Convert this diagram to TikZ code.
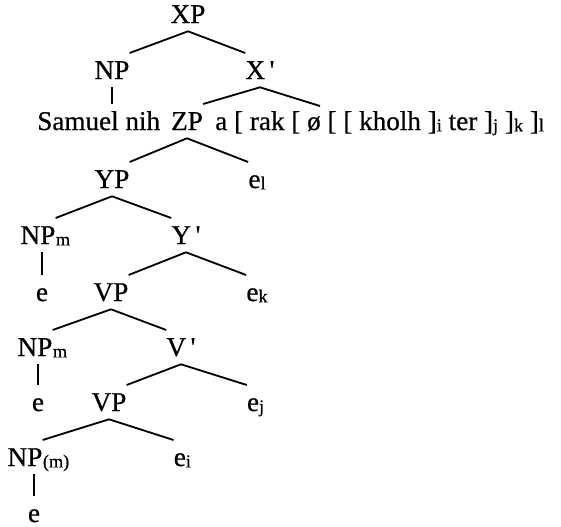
\documentclass[tikz,border=0pt]{standalone}
\usepackage{fontspec}
\setmainfont{Liberation Serif}[FakeBold=0.6]
\newcommand{\sbx}[1]{\raisebox{-1pt}{\fontsize{13}{14}\selectfont #1}}
\begin{document}
\begin{tikzpicture}[
    cat/.style={font=\fontsize{19.3}{22}\selectfont, anchor=base, inner xsep=0pt, inner ysep=5.7pt, text height=12.6pt, text depth=0pt},
    sub/.style={font=\fontsize{13}{14}\selectfont, anchor=base west, inner sep=0pt, yshift=-1pt},
    branch/.style={line width=1.3pt}]
        \useasboundingbox (0,0) rectangle (14.025,-13.15);

        % Niveaux (lignes de base)
        \def\ya{-0.575}
        \def\yb{-1.975}
        \def\yc{-3.25}
        \def\yd{-4.7}
        \def\ye{-6.1}
        \def\yf{-7.525}
        \def\yg{-8.9}
        \def\yh{-10.275}
        \def\yi{-11.65}
        \def\yj{-13.05}

        % Haut de l'arbre
        \node[cat] (xp) at (4.7,\ya) {XP};
        \node[cat] (np0) at (2.8,\yb) {NP};
        \node[cat] (xbar) at (6.5,\yb) {X\,\textquotesingle};
        \node[cat, anchor=base west] (sam) at (0.925,\yc) {Samuel nih};
        \node[cat] (zp) at (4.675,\yc) {ZP};
        \node[cat, anchor=base west] (tete) at (5.375,\yc) {a [ rak [ ø [ [ kholh ]\sbx{i} ter ]\sbx{j} ]\sbx{k} ]\sbx{l}};
        \coordinate (xbarD) at (8.0,-2.65);

        % YP
        \node[cat] (yp) at (2.8,\yd) {YP};
        \node[cat] (el) at (6.425,\yd) {e\sbx{l}};
        \node[cat] (np1) at (0.95,\ye) {NP};
        \node[sub] (m1) at (np1.base east) {m};
        \node[cat] (ybar) at (4.65,\ye) {Y\,\textquotesingle};
        \node[cat] (e1) at (1.05,\yf) {e};
        \node[cat] (vp1) at (2.775,\yf) {VP};
        \node[cat] (ek) at (6.425,\yf) {e\sbx{k}};

        % premier VP
        \node[cat] (np2) at (0.875,\yg) {NP};
        \node[sub] (m2) at (np2.base east) {m};
        \node[cat] (vbar) at (4.525,\yg) {V\,\textquotesingle};
        \node[cat] (e2) at (0.95,\yh) {e};
        \node[cat] (vp2) at (2.725,\yh) {VP};
        \node[cat] (ej) at (6.39,\yh) {e\sbx{j}};

        % second VP
        \node[cat] (np3) at (0.625,\yi) {NP};
        \node[sub] (m3) at (np3.base east) {(m)};
        \node[cat] (ei) at (4.56,\yi) {e\sbx{i}};
        \node[cat] (e3) at (0.85,\yj) {e};

        % Branches
        \draw[branch] (xp.south) -- (np0.north east);
        \draw[branch] (xp.south) -- (xbar.north west);
        \draw[branch] (np0.south) -- (np0.south |- sam.north);
        \draw[branch] (xbar.south) -- (zp.north east);
        \draw[branch] (xbar.south) -- (xbarD);
        \draw[branch] (zp.south) -- (yp.north east);
        \draw[branch] (zp.south) -- (el.north west);
        \draw[branch] (yp.south) -- (np1.north east);
        \draw[branch] (yp.south) -- (ybar.north west);
        \draw[branch] (e1.north) -- (e1.north |- np1.south);
        \draw[branch] (ybar.south) -- (vp1.north east);
        \draw[branch] (ybar.south) -- (ek.north west);
        \draw[branch] (vp1.south) -- (np2.north east);
        \draw[branch] (vp1.south) -- (vbar.north west);
        \draw[branch] (e2.north) -- (e2.north |- np2.south);
        \draw[branch] (vbar.south) -- (vp2.north east);
        \draw[branch] (vbar.south) -- (ej.north west);
        \draw[branch] (vp2.south) -- (np3.north east);
        \draw[branch] (vp2.south) -- (ei.north west);
        \draw[branch] (e3.north) -- (e3.north |- np3.south);
\end{tikzpicture}
\end{document}
